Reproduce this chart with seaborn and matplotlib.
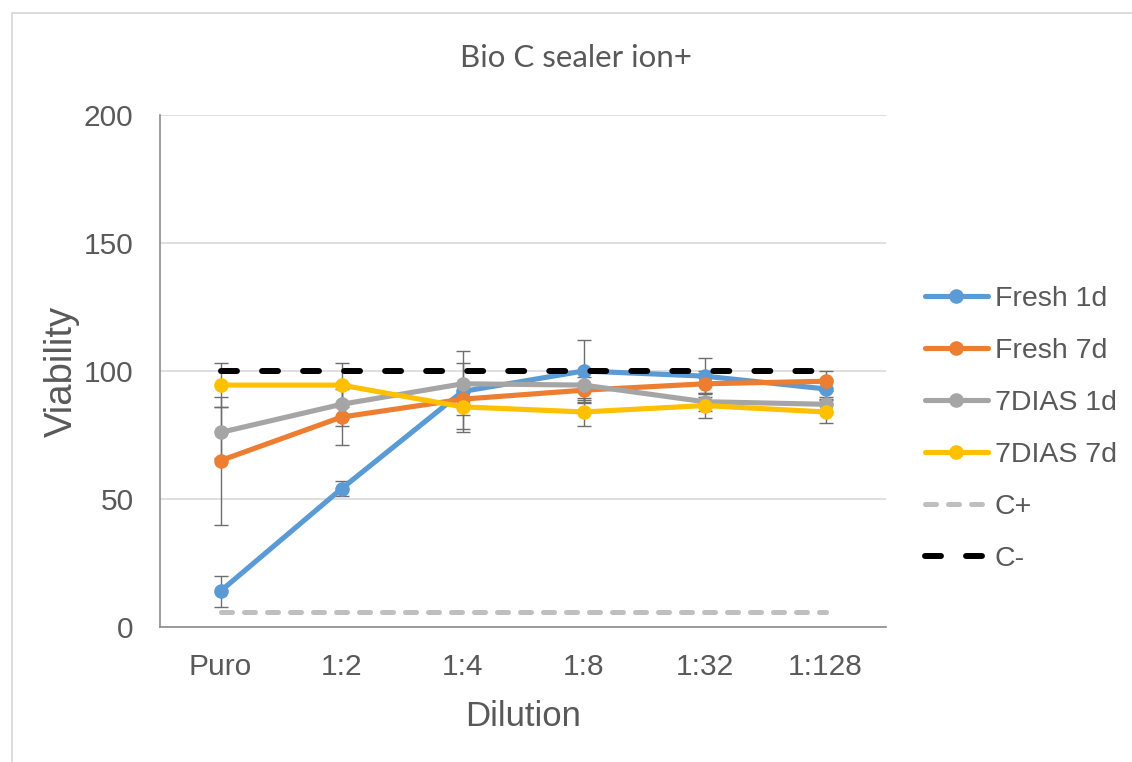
import numpy as np
import pandas as pd
import matplotlib
matplotlib.use("Agg")
import matplotlib.pyplot as plt
import seaborn as sns
from matplotlib.patches import Rectangle

# ---- data ----
dilutions = ["Puro", "1:2", "1:4", "1:8", "1:32", "1:128"]
fresh_1d = [14, 54, 92, 100, 98, 93]
fresh_1d_err = [6, 3, 16, 12, 7, 4]
fresh_7d = [65, 82, 89, 92.5, 95, 96]
fresh_7d_err = [25, 11, 6, 5, 5, 4]
dias_1d = [76, 87, 95, 94.5, 88, 87]
dias_1d_err = [10, 8.5, 8, 6, 3.5, 3]
dias_7d = [94.5, 94.5, 86, 84, 86.5, 84]
dias_7d_err = [8.5, 8.5, 8.5, 5.5, 5, 4.5]
c_pos = [6, 6, 6, 6, 6, 6]
c_neg = [100, 100, 100, 100, 100, 100]

series_names = ["Fresh 1d", "Fresh 7d", "7DIAS 1d", "7DIAS 7d"]
series_vals = [fresh_1d, fresh_7d, dias_1d, dias_7d]
series_errs = [fresh_1d_err, fresh_7d_err, dias_1d_err, dias_7d_err]
series_colors = ["#5B9BD5", "#ED7D31", "#A5A5A5", "#FFC000"]

sns.set_theme(style="white")
plt.rcParams["font.family"] = ["Liberation Sans", "DejaVu Sans"]
TXT = "#595959"

fig = plt.figure(figsize=(11.32, 7.62), dpi=100)
W, H = 1132, 762
ax = fig.add_axes([160 / W, (H - 627) / H, 726 / W, 512 / H])

# outer chart border
fig.patches.append(Rectangle((12 / W, -0.05), 1.1, (H - 13) / H + 0.05,
                             transform=fig.transFigure, fill=False,
                             edgecolor="#D9D9D9", linewidth=1.3, zorder=0))

for i, (name, vals, errs, col) in enumerate(zip(series_names, series_vals,
                                                 series_errs, series_colors)):
    ax.errorbar(dilutions, vals, yerr=errs, fmt="none", ecolor="#6E6E6E",
                elinewidth=1.0, capsize=4.7, capthick=1.0, zorder=2 + i * 0.1)
    sns.lineplot(x=dilutions, y=vals, ax=ax, color=col, marker="o",
                 markersize=10.5, markeredgewidth=0, linewidth=3.7,
                 label=name, sort=False, errorbar=None, zorder=3 + i)

sns.lineplot(x=dilutions, y=c_pos, ax=ax, color="#BFBFBF", linewidth=3.6,
             label="C+", sort=False, errorbar=None, zorder=8)
lp = ax.lines[-1]
lp.set_dashes([2.2, 2.4])
lp.set_dash_capstyle("round")
sns.lineplot(x=dilutions, y=c_neg, ax=ax, color="black", linewidth=4.3,
             label="C-", sort=False, errorbar=None, zorder=9)
ln = ax.lines[-1]
ln.set_dashes([2.67, 4.2])
ln.set_dash_capstyle("round")

handles, labels = ax.get_legend_handles_labels()
if ax.get_legend() is not None:
    ax.get_legend().remove()

ax.set_xlim(-0.5, 5.5)
ax.set_ylim(0, 200)
ax.set_yticks([0, 50, 100, 150, 200])
ax.grid(axis="y", color="#D9D9D9", linewidth=1.2)
ax.grid(axis="x", visible=False)
ax.set_axisbelow(True)
for s in ["top", "right"]:
    ax.spines[s].set_visible(False)
for s in ["left", "bottom"]:
    ax.spines[s].set_color("#8C8C8C")
    ax.spines[s].set_linewidth(1.2)

ax.tick_params(axis="both", length=0, labelsize=21.5, labelcolor=TXT)
ax.tick_params(axis="y", pad=19)
ax.tick_params(axis="x", pad=19)

ax.set_xlabel("Dilution", fontsize=25, color=TXT)
ax.set_ylabel("Viability", fontsize=27.5, color=TXT)
ax.xaxis.set_label_coords(0.5, -0.142)
ax.yaxis.set_label_coords(-0.11, 0.5)

fig.text(576 / W, 1 - 58 / H, "Bio C sealer ion+", fontsize=22.5, color=TXT,
         ha="center", va="center", family=["Lato", "DejaVu Sans"])

fig.legend(handles, labels, loc="upper left",
           bbox_to_anchor=(925 / W, 1 - 286 / H), frameon=False,
           fontsize=20.5, labelcolor=TXT, handlelength=2.2,
           handletextpad=0.25, labelspacing=0.91, borderpad=0,
           borderaxespad=0)

fig.savefig("out.png", dpi=100)
